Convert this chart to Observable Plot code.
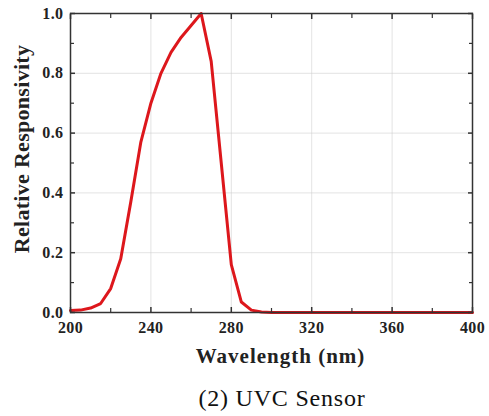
<!DOCTYPE html>
<html><head><meta charset="utf-8">
<script src="https://cdn.jsdelivr.net/npm/d3@7"></script>
<script src="https://cdn.jsdelivr.net/npm/@observablehq/plot@0.6"></script>
<style>
body{margin:0;background:#fff;width:489px;}
#cap{font-family:"Liberation Serif","Times New Roman",serif;font-size:24px;letter-spacing:0.8px;color:#111;position:absolute;left:81px;width:402px;text-align:center;top:385px;white-space:nowrap;}
</style></head><body>
<div id="chart"></div>
<div id="cap">(2) UVC Sensor</div>
<script>
const wavelength = [200,205,210,215,220,225,230,235,240,245,250,255,260,265,270,275,280,285,290,295,300,320,340,360,380,400];
const responsivity = [0.007,0.008,0.015,0.03,0.08,0.18,0.37,0.57,0.7,0.8,0.87,0.92,0.96,1.0,0.84,0.5,0.16,0.035,0.008,0.002,0,0,0,0,0,0];
const xMajor = [200,240,280,320,360,400];
const xMinor = [220,260,300,340,380];
const yMajor = [0,0.2,0.4,0.6,0.8,1.0];
const yMinor = [0.1,0.3,0.5,0.7,0.9];
const xGrid = [240,280,320,360];
const yGrid = [0.2,0.4,0.6,0.8];

const data = wavelength.map((w,i)=>({w, r: responsivity[i]}));
const font = '"Liberation Serif","Times New Roman",serif';
const tickColor = "#333";
const none = () => "";

const chart = Plot.plot({
  width: 489, height: 375,
  marginLeft: 70, marginRight: 17, marginTop: 13, marginBottom: 63,
  style: {fontFamily: font, background: "#fff"},
  x: {domain: [200, 400]},
  y: {domain: [0, 1]},
  marks: [
    Plot.gridX(xGrid, {stroke: "#ccc", strokeOpacity: 0.55}),
    Plot.gridY(yGrid, {stroke: "#ccc", strokeOpacity: 0.55}),
    Plot.line(data, {x: "w", y: "r", stroke: "#dd171c", strokeWidth: 3}),
    Plot.axisX(xMajor, {anchor: "bottom", tickSize: -5, tickPadding: 14, tickFormat: d => d, fontWeight: "bold", fill: "#222", stroke: tickColor, strokeWidth: 1.5,
      label: "Wavelength (nm)", labelAnchor: "center", labelArrow: "none", labelOffset: 50}),
    Plot.axisX(xMinor, {anchor: "bottom", tickSize: -4, tickFormat: none, label: null, stroke: tickColor, strokeWidth: 1.2}),
    Plot.axisX(xMajor, {anchor: "top", tickSize: -5, tickFormat: none, label: null, stroke: tickColor, strokeWidth: 1.5}),
    Plot.axisX(xMinor, {anchor: "top", tickSize: -4, tickFormat: none, label: null, stroke: tickColor, strokeWidth: 1.2}),
    Plot.axisY(yMajor, {anchor: "left", tickSize: -5, tickPadding: 12, tickFormat: d3.format(".1f"), fontWeight: "bold", fill: "#222", stroke: tickColor, strokeWidth: 1.5,
      label: "Relative Responsivity", labelAnchor: "center", labelArrow: "none", labelOffset: 57}),
    Plot.axisY(yMinor, {anchor: "left", tickSize: -4, tickFormat: none, label: null, stroke: tickColor, strokeWidth: 1.2}),
    Plot.axisY(yMajor, {anchor: "right", tickSize: -5, tickFormat: none, label: null, stroke: tickColor, strokeWidth: 1.5}),
    Plot.axisY(yMinor, {anchor: "right", tickSize: -4, tickFormat: none, label: null, stroke: tickColor, strokeWidth: 1.2}),
    Plot.frame({stroke: "#333", strokeWidth: 1.5})
  ]
});
document.getElementById("chart").append(chart);
d3.select(chart).selectAll("g[aria-label='x-axis tick label'], g[aria-label='y-axis tick label']")
  .attr("font-size", 16).style("font-size", "16px").style("letter-spacing", "0.4px");
d3.select(chart).selectAll("g[aria-label='x-axis label'] text")
  .style("font-size", "21px").style("font-weight", "bold").style("fill", "#222")
  .style("letter-spacing", "1px").attr("dx", 9);
d3.select(chart).selectAll("g[aria-label='y-axis label'] text")
  .style("font-size", "22px").style("font-weight", "bold").style("fill", "#222")
  .style("letter-spacing", "0.3px").attr("dx", 14);
</script>
</body></html>
